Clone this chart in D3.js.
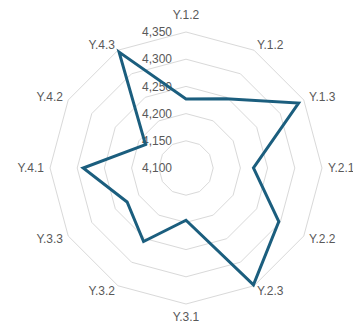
<!DOCTYPE html>
<html>
<head>
<meta charset="utf-8">
<script src="https://cdn.jsdelivr.net/npm/d3@7"></script>
<style>
  body { margin: 0; background: #fff; }
  text { font-family: "Liberation Sans", Arial, sans-serif; }
</style>
</head>
<body>
<div id="chart"></div>
<script>
  // categories round the radar, clockwise from the top
  var categories = ["Y.1.2", "Y.1.2", "Y.1.3", "Y.2.1", "Y.2.2", "Y.2.3",
                    "Y.3.1", "Y.3.2", "Y.3.3", "Y.4.1", "Y.4.2", "Y.4.3"];
  var values = [4227, 4247, 4339, 4224, 4297, 4348, 4196, 4256, 4225, 4289, 4186, 4346];
  var ticks = [4100, 4150, 4200, 4250, 4300, 4350];

  var width = 353, height = 324;
  var cx = 186, cy = 168, radius = 136;

  var svg = d3.select("#chart").append("svg")
      .attr("width", width)
      .attr("height", height);

  var g = svg.append("g").attr("transform", "translate(" + cx + "," + cy + ")");

  var r = d3.scaleLinear().domain([4100, 4350]).range([0, radius]);
  var angle = d3.scalePoint().domain(d3.range(categories.length))
      .range([0, 2 * Math.PI * (categories.length - 1) / categories.length]);

  function px(i, v) { return r(v) * Math.sin(angle(i)); }
  function py(i, v) { return -r(v) * Math.cos(angle(i)); }

  // grid rings (polygons)
  var ring = d3.line().curve(d3.curveLinearClosed);
  g.selectAll(".ring").data(ticks.slice(1))
    .enter().append("path")
      .attr("d", function(t) {
        return ring(categories.map(function(c, i) { return [px(i, t), py(i, t)]; }));
      })
      .attr("fill", "none")
      .attr("stroke", "#d9d9d9")
      .attr("stroke-width", 1);

  // radial tick labels
  g.selectAll(".tick").data(ticks)
    .enter().append("text")
      .attr("x", -14)
      .attr("y", function(t) { return -r(t); })
      .attr("dy", "0.35em")
      .attr("text-anchor", "end")
      .attr("fill", "#595959")
      .style("font-size", "12px")
      .text(d3.format(","));

  // category labels
  var labelR = 142;
  g.selectAll(".cat").data(categories)
    .enter().append("text")
      .attr("x", function(d, i) { return labelR * Math.sin(angle(i)); })
      .attr("y", function(d, i) {
        var c = Math.cos(angle(i));
        var extra = Math.abs(c) > 0.99 ? (c > 0 ? 11 : 7) : 0;
        return -(labelR + extra) * c;
      })
      .attr("dy", "0.35em")
      .attr("text-anchor", function(d, i) {
        var s = Math.sin(angle(i));
        return s > 0.1 ? "start" : (s < -0.1 ? "end" : "middle");
      })
      .attr("fill", "#595959")
      .style("font-size", "12px")
      .text(function(d) { return d; });

  // data series
  g.append("path")
    .attr("d", ring(values.map(function(v, i) { return [px(i, v), py(i, v)]; })))
    .attr("fill", "none")
    .attr("stroke", "#1b5e7e")
    .attr("stroke-width", 3)
    .attr("stroke-linejoin", "miter");
</script>
</body>
</html>
